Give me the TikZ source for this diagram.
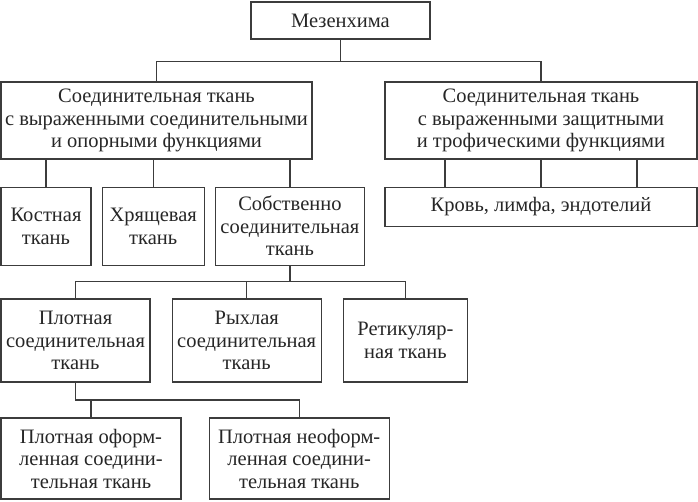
\documentclass[tikz,border=0pt]{standalone}
\usepackage{fontspec}
\setmainfont{Liberation Serif}
\usetikzlibrary{positioning,calc}
\definecolor{linegray}{RGB}{60,60,60}

\begin{document}
\begin{tikzpicture}[x=1pt,y=-1pt,node distance=10pt,
      box/.style={draw=linegray, line width=1.2pt, align=center, inner sep=1pt,
        text=black!85, font=\fontsize{20.5}{22.5}\selectfont},
      link/.style={draw=linegray, line width=1.2pt}]
     \useasboundingbox (0,0) rectangle (698,501);
     % top level
     \node[box, minimum width=179pt, minimum height=37pt] (mes) at (340.5,20.5) {Мезенхима};
     \node[box, minimum width=311pt, minimum height=77pt] (conn) at (156.5,120.5)
       {Соединительная ткань\\ с выраженными соединительными\\ и опорными функциями};
     \node[box, minimum width=312pt, minimum height=77pt] (prot) at (541,120.5)
       {Соединительная ткань\\ с выраженными защитными\\ и трофическими функциями};
     % second level
     \node[box, minimum width=90pt, minimum height=78pt, anchor=north west,
       below=27pt of conn.south west, anchor=north west] (bone) {Костная\\ ткань};
     \node[box, minimum width=102pt, minimum height=78pt, right=of bone] (cart) {Хрящевая\\ ткань};
     \node[box, minimum width=149pt, minimum height=78pt, right=of cart] (prop)
       {Собственно\\ соединительная\\ ткань};
     \node[box, minimum width=312pt, minimum height=39pt, below=27pt of prot] (blood)
       {Кровь, лимфа, эндотелий};
     % third level
     \node[box, minimum width=149pt, minimum height=83pt] (dense) at (75.5,340.5)
       {Плотная\\ соединительная\\ ткань};
     \node[box, minimum width=149pt, minimum height=83pt, right=21pt of dense] (loose)
       {Рыхлая\\ соединительная\\ ткань};
     \node[box, minimum width=124pt, minimum height=83pt, right=21pt of loose] (ret)
       {Ретикуляр-\\ная ткань};
     % fourth level
     \node[box, minimum width=180pt, minimum height=81pt] (form) at (91,458.5)
       {Плотная оформ-\\ленная соедини-\\тельная ткань};
     \node[box, minimum width=180pt, minimum height=81pt, right=27pt of form] (unform)
       {Плотная неоформ-\\ленная соедини-\\тельная ткань};
     % connectors
     \draw[link] (mes.south) -- ++(0,22) coordinate (m1) -| (conn.north);
     \draw[link] (m1) -| (prot.north);
     \foreach \n in {bone,cart,prop}
       \draw[link] (\n.north) -- (\n.north |- conn.south);
     \foreach \dx in {-96,0,96}
       \draw[link] ([xshift=\dx pt]blood.north) -- ([xshift=\dx pt]prot.south);
     \draw[link] (prop.south) -- ++(0,16) coordinate (p1) -| (dense.north);
     \draw[link] (p1) -| (ret.north);
     \draw[link] (loose.north) -- (loose.north |- p1);
     \draw[link] (dense.south) |- ($(dense.south)!0.5!(dense.south |- form.north)$) coordinate (d1)
       -| (unform.north);
     \draw[link] (form.north) -- (form.north |- d1);
\end{tikzpicture}
\end{document}
